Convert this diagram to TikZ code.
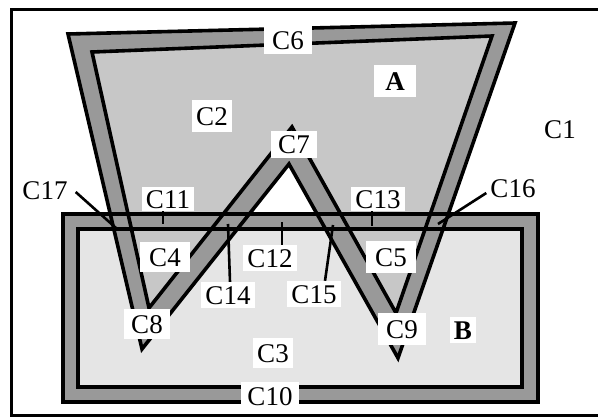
\documentclass[tikz,border=0pt]{standalone}
\usepackage{fontspec}
\setmainfont{Liberation Serif}
\definecolor{bandc}{gray}{0.6}
\definecolor{inA}{gray}{0.78}
\definecolor{inB}{gray}{0.9}
\begin{document}
\begin{tikzpicture}[x=1pt,y=-1pt,
  edge/.style={line width=3.6pt},
  ptr/.style={line width=2.6pt},
  lbl/.style={fill=white, inner xsep=4pt, inner ysep=4pt, text height=18pt, text depth=0pt, font=\fontsize{27}{30}\selectfont},
  blbl/.style={lbl, font=\fontsize{27}{30}\selectfont\bfseries},
]
\useasboundingbox (0,0) rectangle (598,418);
% A outer outline
\coordinate (Ao1) at (68,34);
\coordinate (Ao2) at (515,23);
\coordinate (Ao3) at (398,358);
\coordinate (Ao4) at (289,164);
\coordinate (Ao5) at (142,349);
% A inner outline
\coordinate (Ai1) at (92,52);
\coordinate (Ai2) at (492,36);
\coordinate (Ai3) at (396,313);
\coordinate (Ai4) at (292,127);
\coordinate (Ai5) at (149,308);
% B rectangles
\coordinate (Bo1) at (63,214);
\coordinate (Bo2) at (538,402);
\coordinate (Bi1) at (78,229);
\coordinate (Bi2) at (522,387);
% fills
\fill[bandc] (Bo1) rectangle (Bo2);
\fill[inB] (Bi1) rectangle (Bi2);
\fill[bandc] (Ao1) -- (Ao2) -- (Ao3) -- (Ao4) -- (Ao5) -- cycle;
\fill[inA] (Ai1) -- (Ai2) -- (Ai3) -- (Ai4) -- (Ai5) -- cycle;
\fill[bandc, even odd rule] (Bo1) rectangle (Bo2) (Bi1) rectangle (Bi2);
% outlines
\draw[edge] (Ao1) -- (Ao2) -- (Ao3) -- (Ao4) -- (Ao5) -- cycle;
\draw[edge] (Ai1) -- (Ai2) -- (Ai3) -- (Ai4) -- (Ai5) -- cycle;
\draw[edge] (Bo1) rectangle (Bo2);
\draw[edge] (Bi1) rectangle (Bi2);
% frame (right side lies beyond the picture)
\coordinate (F1) at (600,9.5);
\coordinate (F2) at (11,9.5);
\coordinate (F3) at (11,415.5);
\coordinate (F4) at (600,415.5);
\draw[line width=3pt] (F1) -- (F2) -- (F3) -- (F4);
% labels
\node[lbl, inner xsep=8pt, inner ysep=5pt] (lC6) at (288,40) {C6};
\node[blbl, inner xsep=11pt, inner ysep=7pt] (lA) at (395,81) {A};
\node[lbl] (lC1) at (560,129) {C1};
\node[lbl, inner ysep=7pt] (lC2) at (212,116) {C2};
\node[lbl, inner xsep=7pt, inner ysep=4.5pt] (lC7) at (294,144) {C7};
\node[lbl] (lC17) at (45,190) {C17};
\node[lbl, inner ysep=3pt] (lC11) at (168,199) {C11};
\node[lbl, inner ysep=3pt] (lC13) at (378,199) {C13};
\node[lbl] (lC16) at (513,188) {C16};
\node[lbl, inner xsep=9pt, inner ysep=6pt] (lC4) at (165,257) {C4};
\node[lbl] (lC12) at (270,258) {C12};
\node[lbl, inner xsep=9pt, inner ysep=7pt] (lC5) at (391,257) {C5};
\node[lbl] (lC14) at (228,295) {C14};
\node[lbl] (lC15) at (314,294) {C15};
\node[lbl, inner xsep=7pt, inner ysep=6pt] (lC8) at (147,324) {C8};
\node[lbl, inner xsep=8pt, inner ysep=7pt] (lC9) at (402,329) {C9};
\node[blbl] (lB) at (463,330) {B};
\node[lbl, inner ysep=6pt] (lC3) at (273,353) {C3};
\node[lbl, inner xsep=6pt, inner ysep=5pt] (lC10) at (270,396) {C10};
% pointers and ticks
\coordinate (p17) at (116,228);
\coordinate (p16) at (438,224);
\coordinate (p14) at (228,224);
\coordinate (p15) at (333,225);
\coordinate (t11) at (163,224);
\coordinate (t12) at (282,222);
\coordinate (t13) at (372,226);
\draw[ptr] ([xshift=4pt,yshift=-2pt]lC17.east) -- (p17);
\draw[ptr] ([yshift=-5pt]lC16.west) -- (p16);
\draw[ptr] ([xshift=2pt]lC14.north) -- (p14);
\draw[ptr] ([xshift=11pt]lC15.north) -- (p15);
\draw[ptr] ([xshift=-5pt]lC11.south) -- (t11);
\draw[ptr] ([xshift=12pt]lC12.north) -- (t12);
\draw[ptr] ([xshift=-6pt]lC13.south) -- (t13);
\end{tikzpicture}
\end{document}
